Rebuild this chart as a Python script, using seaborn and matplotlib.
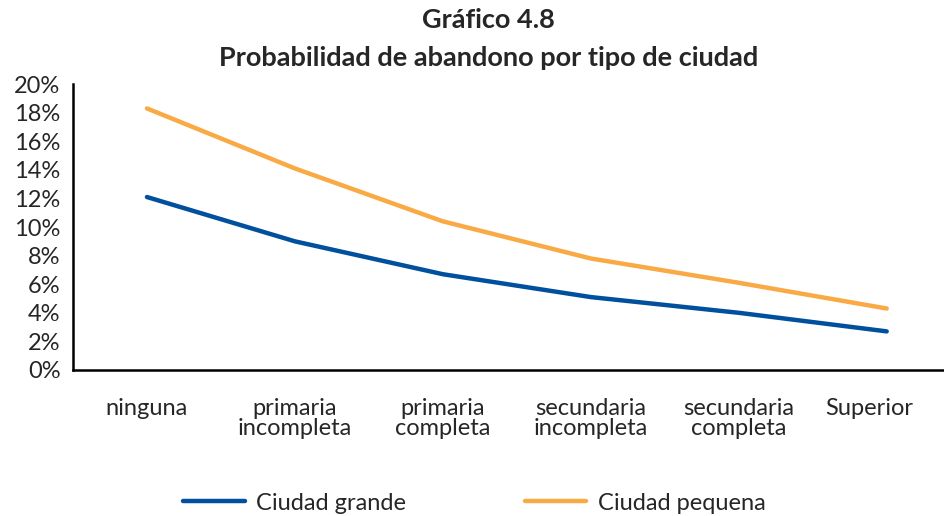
import matplotlib
matplotlib.use('Agg')
import matplotlib.pyplot as plt
import matplotlib.transforms as mtransforms
import seaborn as sns
import pandas as pd
from matplotlib.ticker import FixedLocator, PercentFormatter

# datos
categorias = ['ninguna', 'primaria\nincompleta', 'primaria\ncompleta',
              'secundaria\nincompleta', 'secundaria\ncompleta', 'Superior']
ciudad_grande = [12.1, 9.0, 6.7, 5.1, 4.0, 2.7]
ciudad_pequena = [18.3, 14.1, 10.4, 7.8, 6.1, 4.3]

df = pd.DataFrame({
    'x': list(range(len(categorias))) * 2,
    'valor': ciudad_grande + ciudad_pequena,
    'serie': ['Ciudad grande'] * len(categorias) + ['Ciudad pequena'] * len(categorias),
})

sns.set_style('white')
plt.rcParams['font.family'] = ['Lato', 'DejaVu Sans']

fig = plt.figure(figsize=(9.45, 5.16), dpi=100)
ax = fig.add_axes([0.0772, 0.283, 0.93, 0.554])

sns.lineplot(data=df, x='x', y='valor', hue='serie',
             palette={'Ciudad grande': '#00509E', 'Ciudad pequena': '#F9AA45'},
             linewidth=3.2, ax=ax, legend=False)
for ln in ax.get_lines():
    ln.set_solid_capstyle('round')

ax.set_ylim(0, 20)
ax.set_xlim(-0.5, 5.44)
ax.yaxis.set_major_locator(FixedLocator(range(0, 21, 2)))
ax.yaxis.set_major_formatter(PercentFormatter(decimals=0))
ax.xaxis.set_major_locator(FixedLocator([i - 0.5 for i in range(len(categorias) + 1)]))
ax.xaxis.set_minor_locator(FixedLocator(range(len(categorias))))
ax.set_xticklabels([])
ax.set_xticklabels(categorias, minor=True, linespacing=0.95)
ax.tick_params(axis='x', which='major', direction='out', length=6, width=1.5, color='black')
ax.tick_params(axis='x', which='minor', length=0, pad=20, labelsize=17)
ax.tick_params(axis='y', direction='out', length=6, width=1.5, color='black', labelsize=17, pad=3)
for lab in ax.get_xticklabels(minor=True):
    lab.set_verticalalignment('top')
# la ultima etiqueta va algo corrida a la izquierda, como en el original
ultima = ax.get_xticklabels(minor=True)[-1]
ultima.set_transform(ultima.get_transform() +
                     mtransforms.ScaledTranslation(-0.17, 0, fig.dpi_scale_trans))

ax.spines['top'].set_visible(False)
ax.spines['right'].set_visible(False)
for s in ['left', 'bottom']:
    ax.spines[s].set_color('black')
    ax.spines[s].set_linewidth(1.8)
ax.set_xlabel('')
ax.set_ylabel('')

fig.text(0.517, 0.961, 'Gráfico 4.8', ha='center', va='center', fontsize=19.5, fontweight='bold')
fig.text(0.517, 0.888, 'Probabilidad de abandono por tipo de ciudad', ha='center', va='center',
         fontsize=19.5, fontweight='bold')

handles = [plt.Line2D([], [], color='#00509E', lw=3.2),
           plt.Line2D([], [], color='#F9AA45', lw=3.2)]
fig.legend(handles, ['Ciudad grande', 'Ciudad pequena'], loc='center', ncol=2,
           bbox_to_anchor=(0.502, 0.025), frameon=False, fontsize=17,
           handlelength=2.6, columnspacing=5.0, handletextpad=0.5)

fig.savefig('out.png', dpi=100)
